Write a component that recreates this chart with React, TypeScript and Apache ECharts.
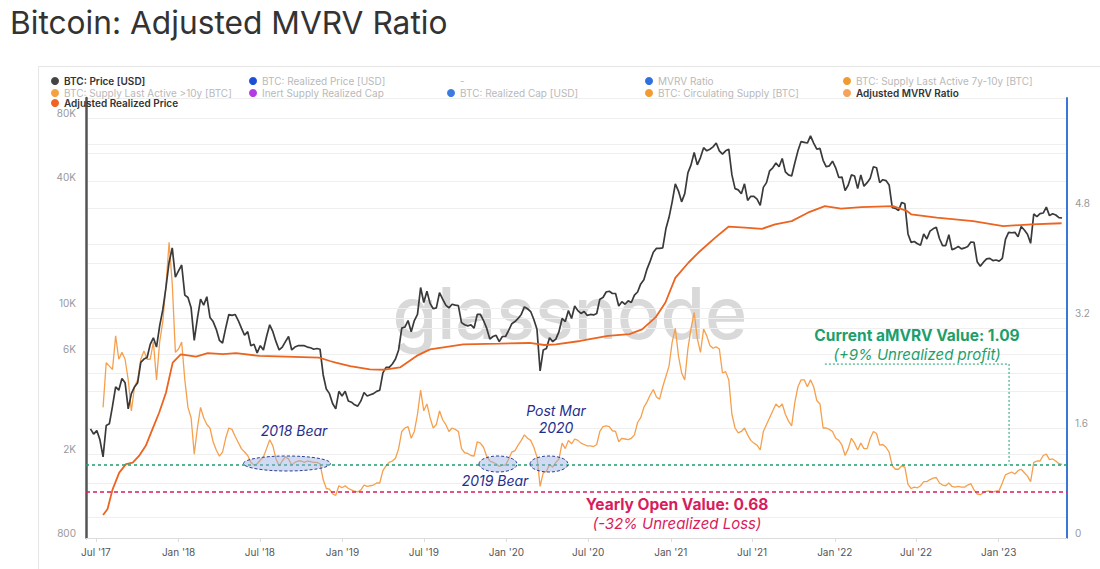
import React, { useEffect, useRef } from "react";
import * as echarts from "echarts";

// ---------- DATA ----------
const DAY = 86400000;
const priceStart = "2017-06-19"; // weekly samples
const btcPrice = [
  2650, 2500, 2600, 2350, 1950, 2750, 2800, 3400, 4200, 4050,
  4600, 4400, 3300, 3900, 4200, 4400, 5500, 5700, 5800, 6700,
  7200, 6500, 8200, 9800, 12500, 16500, 19300, 14000, 15000, 16000,
  11500, 11200, 10000, 7000, 8900, 11000, 10300, 11300, 9000, 8600,
  7900, 7000, 6800, 8000, 9300, 9200, 9300, 8700, 8000, 7400,
  7700, 6600, 6700, 6100, 6600, 6300, 7300, 8300, 7700, 6900,
  6300, 6500, 6900, 7300, 6300, 6500, 6600, 6600, 6600, 6500,
  6450, 6350, 6400, 6350, 4800, 4100, 3900, 3500, 3300, 4000,
  3800, 4000, 3600, 3550, 3450, 3400, 3600, 3950, 3800, 3850,
  3900, 4000, 4050, 4900, 5200, 5200, 5400, 5700, 6300, 8000,
  8100, 8700, 7700, 8700, 9300, 12500, 10600, 12000, 10500, 9900,
  10000, 11800, 11000, 10300, 10000, 10400, 10300, 10250, 8500, 8300,
  8200, 8300, 8000, 9300, 9300, 8700, 8000, 7100, 7300, 7400,
  6900, 7300, 7300, 7800, 8400, 8600, 8900, 9300, 10100, 9900,
  9600, 8800, 7900, 5000, 6300, 6400, 7200, 6900, 7100, 7700,
  8900, 8600, 9700, 8900, 10200, 9700, 9400, 9600, 9200, 9300,
  9250, 9400, 11000, 11200, 11900, 12000, 11700, 11700, 10200, 10700,
  10400, 10800, 10600, 11500, 11900, 13000, 13600, 15300, 16700, 18400,
  19200, 19200, 19300, 23800, 27000, 32000, 39000, 36000, 32000, 35000,
  44000, 48000, 55000, 48000, 52000, 58000, 56000, 57000, 58500, 61000,
  56000, 54000, 56000, 57000, 43000, 37000, 36500, 35000, 39000, 32500,
  34000, 34000, 33000, 30800, 37500, 39500, 45000, 46500, 49000, 47000,
  51500, 44500, 43000, 42500, 49000, 56000, 62000, 61500, 61000, 66000,
  61000, 57000, 57500, 50500, 47000, 47500, 50000, 46500, 41800, 42000,
  36200, 38500, 43000, 42500, 37000, 43000, 38000, 39500, 41500, 47000,
  46500, 39500, 40800, 40400, 38500, 30000, 29800, 29100, 31800, 31300,
  22500, 20500, 20700, 20200, 19900, 22500, 21300, 23200, 23800, 24200,
  21400, 19800, 19800, 22300, 18900, 19200, 19600, 19100, 19300, 19600,
  20600, 20500, 16600, 15800, 16500, 17100, 17200, 16800, 16900, 16700,
  17200, 21200, 22900, 22800, 22900, 21800, 24400, 23500, 22400, 20300,
  28000, 27200, 28100, 28300, 30200, 27500, 28100, 27700, 26900, 26800,
];

const mvrvStart = "2017-07-17"; // weekly samples
const adjustedMvrv = [
  1.9, 2.55, 2.5, 2.45, 2.94, 2.6, 2.7, 2.6, 2.3, 1.85,
  2.2, 2.3, 2.6, 2.72, 2.6, 2.6, 2.85, 2.3, 2.85, 3.15,
  3.67, 4.3, 3.7, 2.7, 2.75, 2.85, 2.3, 1.9, 1.75, 1.22,
  1.6, 1.9, 1.75, 1.65, 1.6, 1.4, 1.28, 1.19, 1.25, 1.45,
  1.6, 1.58, 1.48, 1.39, 1.3, 1.25, 1.2, 1.1, 1.06, 1.08,
  1.13, 1.18, 1.3, 1.43, 1.34, 1.15, 1.05, 1.12, 1.18, 1.15,
  1.06, 1.1, 1.12, 1.12, 1.1, 1.12, 1.11, 1.1, 1.1, 1.08,
  0.85, 0.72, 0.71, 0.64, 0.62, 0.76, 0.73, 0.76, 0.72, 0.7,
  0.68, 0.67, 0.7, 0.77, 0.75, 0.76, 0.77, 0.8, 0.8, 0.98,
  1.05, 1.1, 1.12, 1.16, 1.3, 1.55, 1.6, 1.62, 1.45, 1.55,
  1.8, 2.15, 1.85, 1.95, 1.75, 1.6, 1.65, 1.85, 1.72, 1.65,
  1.55, 1.6, 1.58, 1.55, 1.3, 1.24, 1.23, 1.2, 1.19, 1.4,
  1.38, 1.32, 1.19, 1.12, 1.1, 1.08, 1.04, 1.06, 1.06, 1.15,
  1.25, 1.27, 1.35, 1.42, 1.5, 1.45, 1.42, 1.32, 1.18, 0.75,
  0.95, 0.97, 1.07, 1.03, 1.1, 1.15, 1.38, 1.3, 1.42, 1.37,
  1.44, 1.42, 1.38, 1.36, 1.34, 1.34, 1.33, 1.36, 1.55, 1.62,
  1.63, 1.62, 1.56, 1.55, 1.4, 1.45, 1.44, 1.43, 1.45, 1.5,
  1.68, 1.75, 1.9, 1.98, 2.08, 2.16, 2.05, 2.02, 2.2, 2.35,
  2.5, 2.85, 3.05, 2.65, 2.4, 2.3, 2.75, 3.05, 3.28, 2.9,
  2.7, 3.04, 2.94, 2.8, 2.76, 2.78, 2.75, 2.4, 2.42, 2.3,
  1.8, 1.6, 1.53, 1.55, 1.6, 1.5, 1.42, 1.38, 1.35, 1.28,
  1.55, 1.65, 1.75, 1.85, 1.95, 1.9, 1.95, 1.8, 1.7, 1.63,
  1.97, 2.2, 2.3, 2.3, 2.2, 2.3, 2.2, 2.0, 1.95, 1.6,
  1.6, 1.58, 1.55, 1.45, 1.42, 1.35, 1.2, 1.3, 1.45, 1.38,
  1.28, 1.38, 1.3, 1.3, 1.45, 1.55, 1.52, 1.35, 1.36, 1.32,
  1.25, 1.05, 1.0, 1.0, 1.05, 1.03, 0.78, 0.72, 0.74, 0.73,
  0.76, 0.82, 0.82, 0.85, 0.87, 0.88, 0.8, 0.77, 0.76, 0.8,
  0.75, 0.74, 0.75, 0.74, 0.74, 0.77, 0.79, 0.7, 0.64, 0.63,
  0.66, 0.68, 0.68, 0.67, 0.68, 0.69, 0.8, 0.92, 0.94, 0.96,
  0.93, 0.98, 1.0, 0.95, 0.9, 0.82, 1.1, 1.12, 1.12, 1.2,
  1.22, 1.14, 1.15, 1.12, 1.08, 1.07,
];

const arpDates = [
  "2017-07-17", "2017-07-27", "2017-08-07", "2017-08-22", "2017-09-06", "2017-09-21",
  "2017-10-05", "2017-10-20", "2017-11-04", "2017-11-19", "2017-12-04", "2017-12-19",
  "2018-01-06", "2018-02-09", "2018-03-07", "2018-04-10", "2018-05-09", "2018-06-30",
  "2018-08-28", "2018-11-10", "2018-12-04", "2018-12-17", "2019-01-18", "2019-03-03",
  "2019-04-05", "2019-05-09", "2019-06-15", "2019-07-15", "2019-09-27", "2019-12-15",
  "2020-02-22", "2020-03-25", "2020-04-20", "2020-06-13", "2020-08-14", "2020-10-01",
  "2020-10-29", "2020-11-28", "2020-12-20", "2021-01-11", "2021-02-09", "2021-03-03",
  "2021-04-10", "2021-05-10", "2021-06-15", "2021-07-23", "2021-08-21", "2021-09-27",
  "2021-11-02", "2021-12-10", "2022-01-15", "2022-03-01", "2022-05-11", "2022-06-10",
  "2022-06-20", "2022-08-16", "2022-11-05", "2023-01-11", "2023-03-15", "2023-05-21",
];
const arpValues = [
  1030, 1100, 1360, 1640, 1800, 1830,
  1970, 2200, 2640, 3170, 3940, 5480,
  6000, 5850, 6080, 6020, 6080, 5900,
  5850, 5790, 5580, 5480, 5280, 5090,
  5070, 5200, 5900, 6340, 6700, 6750,
  6800, 6650, 6700, 6950, 7350, 7500,
  7900, 9000, 10600, 13900, 16400, 18300,
  21600, 24400, 24100, 23800, 25000, 25900,
  28400, 30500, 29700, 30200, 30500, 29000,
  27900, 26900, 25900, 24500, 25000, 25300,
];

const leftLabelTicks = [800, 2000, 6000, 10000, 40000, 80000];
const leftGridTicks = [1000, 2000, 4000, 6000, 8000, 10000, 20000, 40000, 60000, 80000];
const rightLabelTicks = [0, 1.6, 3.2, 4.8];
const xLabelDates = [
  "2017-07-01", "2018-01-01", "2018-07-01", "2019-01-01", "2019-07-01", "2020-01-01",
  "2020-07-01", "2021-01-01", "2021-07-01", "2022-01-01", "2022-07-01", "2023-01-01",
];
const currentLevel = 1.07;
const yearlyOpenLevel = 0.68;
// dotted connector from the current-value line up to its label
const connectorDates = ["2021-12-10", "2023-01-24", "2023-01-24"];
const connectorValues = [2.53, 2.53, 1.07];

const legendItems = [
  { name: "BTC: Price [USD]", color: "#444444", active: true, col: 0, row: 0 },
  { name: "BTC: Realized Price [USD]", color: "#1d4fd6", active: false, col: 1, row: 0 },
  { name: "-", color: "rgba(0,0,0,0)", active: false, col: 2, row: 0 },
  { name: "MVRV Ratio", color: "#2f6fe0", active: false, col: 3, row: 0 },
  { name: "BTC: Supply Last Active 7y-10y [BTC]", color: "#f09a36", active: false, col: 4, row: 0 },
  { name: "BTC: Supply Last Active >10y [BTC]", color: "#f4a140", active: false, col: 0, row: 1 },
  { name: "Inert Supply Realized Cap", color: "#b43be3", active: false, col: 1, row: 1 },
  { name: "BTC: Realized Cap [USD]", color: "#3d7ae0", active: false, col: 2, row: 1 },
  { name: "BTC: Circulating Supply [BTC]", color: "#f29a33", active: false, col: 3, row: 1 },
  { name: "Adjusted MVRV Ratio", color: "#f5a35a", active: true, col: 4, row: 1 },
  { name: "Adjusted Realized Price", color: "#ee6422", active: true, col: 0, row: 2 },
];

// ---------- HELPERS ----------
const ts = (d: string) => Date.parse(d + "T00:00:00Z");
const weekly = (start: string, n: number) => {
  const t0 = ts(start);
  return Array.from({ length: n }, (_, i) => t0 + i * 7 * DAY);
};
const LOG_MIN = Math.log10(800);
const LOG_MAX = Math.log10(100000);
const fmtUsd = (v: number) => {
  const r = Math.round(v);
  return r >= 1000 ? r / 1000 + "K" : String(r);
};
const MONTHS = ["Jan", "Feb", "Mar", "Apr", "May", "Jun", "Jul", "Aug", "Sep", "Oct", "Nov", "Dec"];
const fmtDate = (v: number) => {
  const d = new Date(Number(v));
  return MONTHS[d.getUTCMonth()] + " '" + String(d.getUTCFullYear()).slice(2);
};

const FONT = "Inter, 'Noto Sans', sans-serif";
const GREEN = "#1d9f6c";
const CRIMSON = "#d81d5c";
const NAVY = "#1f2f8e";

function buildOption() {
  const priceDates = weekly(priceStart, btcPrice.length);
  const mvrvDates = weekly(mvrvStart, adjustedMvrv.length);
  const priceData = priceDates.map((t, i) => [t, Math.log10(btcPrice[i])]);
  const mvrvData = mvrvDates.map((t, i) => [t, adjustedMvrv[i]]);
  const arpData = arpDates.map((d, i) => [ts(d), Math.log10(arpValues[i])]);
  const connectorData = connectorDates.map((d, i) => [ts(d), connectorValues[i]]);
  const xTicks = xLabelDates.map(ts);

  const legendCols = [51, 249, 447, 645, 843];
  const legendRows = [75, 87, 97];

  const legends = legendItems.map((it) => ({
    show: true,
    left: legendCols[it.col],
    top: legendRows[it.row],
    padding: 0,
    itemWidth: 8,
    itemHeight: 8,
    icon: "circle",
    selectedMode: false,
    data: [{ name: it.name }],
    textStyle: {
      fontSize: 10,
      fontFamily: FONT,
      lineHeight: 12,
      color: it.active ? "#333333" : "#b9b9b9",
      fontWeight: it.active ? 600 : 400,
    },
  }));

  const activeNames = ["BTC: Price [USD]", "Adjusted MVRV Ratio", "Adjusted Realized Price"];
  const dummySeries = legendItems
    .filter((it) => !activeNames.includes(it.name))
    .map((it) => ({
      name: it.name,
      type: "line",
      yAxisIndex: 1,
      data: [],
      showSymbol: false,
      itemStyle: { color: it.color },
      lineStyle: { color: it.color },
    }));

  const ellipseStyle = () => ({
    fill: "rgba(150,175,228,0.45)",
    stroke: "#2c3f93",
    lineWidth: 1,
    lineDash: [3, 2],
  });
  const txt = (text: string, x: number, y: number, font: string, fill: string) => ({
    type: "text",
    x,
    y,
    z: 20,
    silent: true,
    style: { text, font, fill, align: "center", verticalAlign: "middle" },
  });

  return {
    animation: false,
    backgroundColor: "#ffffff",
    textStyle: { fontFamily: FONT },
    title: {
      text: "Bitcoin: Adjusted MVRV Ratio",
      left: 10,
      top: 6,
      padding: 0,
      textStyle: { fontSize: 31.7, fontWeight: 400, color: "#333333", fontFamily: FONT },
    },
    legend: legends,
    grid: { left: 86, right: 33, top: 98, bottom: 31, containLabel: false },
    xAxis: {
      type: "value",
      min: ts("2017-06-09"),
      max: ts("2023-06-02"),
      axisLine: { onZero: false, lineStyle: { color: "#dddddd", width: 1 } },
      axisTick: { show: true, customValues: xTicks, length: 4, lineStyle: { color: "#dddddd" } },
      axisLabel: { customValues: xTicks, formatter: fmtDate, color: "#555555", fontSize: 10, margin: 9, hideOverlap: false },
      splitLine: { show: false },
    },
    yAxis: [
      {
        type: "value",
        position: "left",
        min: LOG_MIN,
        max: LOG_MAX,
        axisLine: { show: true, onZero: false, lineStyle: { color: "#555555", width: 2.5 } },
        axisTick: { show: false, customValues: leftGridTicks.map((v) => Math.log10(v)) },
        axisLabel: {
          customValues: leftLabelTicks.map((v) => Math.log10(v)),
          formatter: (v: number) => fmtUsd(Math.pow(10, v)),
          color: "#999999",
          fontSize: 10,
          margin: 10,
          verticalAlign: "bottom",
        },
        splitLine: { show: true, lineStyle: { color: "#efefef", width: 1 } },
      },
      {
        type: "value",
        position: "right",
        min: 0,
        max: 6.4,
        interval: 0.8,
        axisLine: { show: true, onZero: false, lineStyle: { color: "#3a78d8", width: 2 } },
        axisTick: { show: false },
        axisLabel: {
          customValues: rightLabelTicks,
          formatter: (v: number) => String(+Number(v).toFixed(1)),
          color: "#999999",
          fontSize: 10,
          margin: 8,
          verticalAlign: "bottom",
        },
        splitLine: { show: true, lineStyle: { color: "#efefef", width: 1 } },
      },
    ],
    series: [
      {
        name: "BTC: Price [USD]",
        type: "line",
        yAxisIndex: 0,
        showSymbol: false,
        data: priceData,
        z: 3,
        itemStyle: { color: "#444444" },
        lineStyle: { color: "#3a3a3a", width: 1.7 },
      },
      {
        name: "Adjusted MVRV Ratio",
        type: "line",
        yAxisIndex: 1,
        showSymbol: false,
        data: mvrvData,
        z: 2,
        itemStyle: { color: "#f5a35a" },
        lineStyle: { color: "#f6a04e", width: 1.3 },
        markLine: {
          silent: true,
          animation: false,
          symbol: ["none", "none"],
          label: { show: false },
          data: [
            { yAxis: currentLevel, lineStyle: { color: GREEN, type: [3, 3], width: 1.5 } },
            { yAxis: yearlyOpenLevel, lineStyle: { color: CRIMSON, type: [4, 3], width: 1.5 } },
          ],
        },
      },
      {
        name: "Adjusted Realized Price",
        type: "line",
        yAxisIndex: 0,
        showSymbol: false,
        data: arpData,
        z: 4,
        itemStyle: { color: "#ee6422" },
        lineStyle: { color: "#ec6420", width: 1.8 },
      },
      {
        name: "connector",
        type: "line",
        yAxisIndex: 1,
        showSymbol: false,
        silent: true,
        data: connectorData,
        z: 5,
        itemStyle: { color: GREEN },
        lineStyle: { color: GREEN, type: [2, 2], width: 1 },
      },
      ...dummySeries,
    ],
    graphic: [
      {
        type: "rect",
        silent: true,
        z: 0,
        shape: { x: 38.5, y: 66.5, width: 1080, height: 520 },
        style: { fill: "none", stroke: "#e6e6e6", lineWidth: 1 },
      },
      {
        type: "text",
        x: 570,
        y: 312,
        z: 0,
        silent: true,
        style: {
          text: "glassnode",
          font: "500 72px Inter, sans-serif",
          fill: "#d9d9d9",
          align: "center",
          verticalAlign: "middle",
        },
      },
      { type: "ellipse", z: 15, silent: true, shape: { cx: 287, cy: 463.5, rx: 43.5, ry: 7.5 }, style: ellipseStyle() },
      { type: "ellipse", z: 15, silent: true, shape: { cx: 498, cy: 464, rx: 19, ry: 8 }, style: ellipseStyle() },
      { type: "ellipse", z: 15, silent: true, shape: { cx: 549, cy: 464, rx: 19, ry: 8 }, style: ellipseStyle() },
      txt("2018 Bear", 294, 430, "italic 14px Inter, sans-serif", NAVY),
      txt("2019 Bear", 495, 480, "italic 14px Inter, sans-serif", NAVY),
      txt("Post Mar", 556, 410.5, "italic 14px Inter, sans-serif", NAVY),
      txt("2020", 556, 427, "italic 14px Inter, sans-serif", NAVY),
      txt("Current aMVRV Value: 1.09", 917, 335, "bold 15.5px Inter, sans-serif", GREEN),
      txt("(+9% Unrealized profit)", 917, 354, "italic 15px Inter, sans-serif", GREEN),
      txt("Yearly Open Value: 0.68", 677, 504, "bold 15.5px Inter, sans-serif", CRIMSON),
      txt("(-32% Unrealized Loss)", 677, 523, "italic 15px Inter, sans-serif", CRIMSON),
    ],
  };
}

export default function App() {
  const ref = useRef<HTMLDivElement>(null);
  useEffect(() => {
    if (!ref.current) return;
    const chart = echarts.init(ref.current, null, { renderer: "svg" });
    chart.setOption(buildOption() as any);
    return () => chart.dispose();
  }, []);
  return (
    <div
      ref={ref}
      style={{ position: "absolute", left: 0, top: 0, width: 1100, height: 569, background: "#fff" }}
    />
  );
}
